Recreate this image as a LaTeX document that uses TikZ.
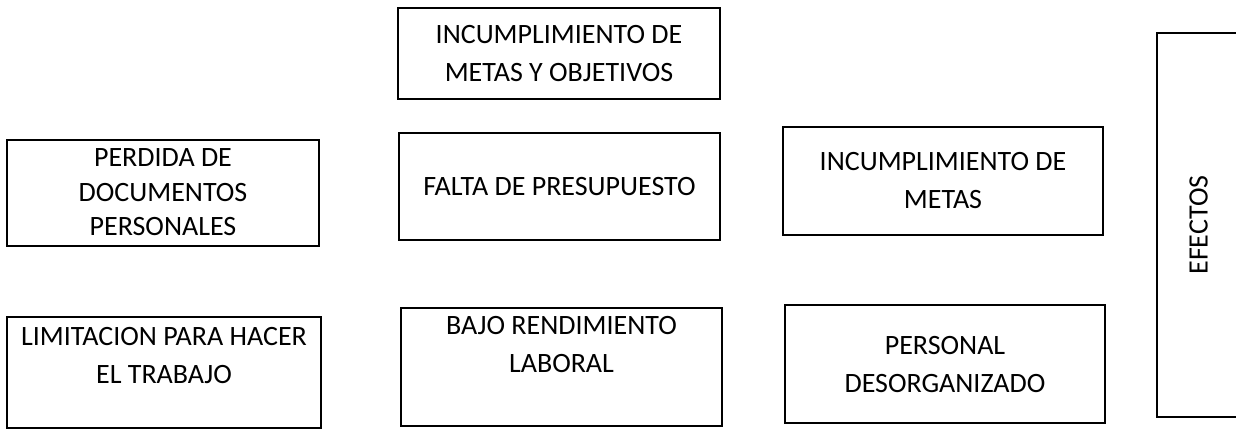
\documentclass[tikz,border=0pt]{standalone}
\usepackage{fontspec}
\setmainfont{Carlito}
\tikzset{%
  % Specifications for style of nodes:
            base/.style = {rectangle, draw=black, line width=1pt,
                           text centered, align=center, inner sep=4pt,
                           font=\fontsize{14}{19}\selectfont},
  efecto/.style = {base, minimum width=160pt, minimum height=54pt},
  titulo/.style = {base, rotate=90, minimum width=192pt, minimum height=41.5pt},
}

\begin{document}
\begin{tikzpicture}[x=0.5pt, y=-0.5pt]
  \useasboundingbox (0,0) rectangle (1236,430);
  % Specification of nodes (position, etc.)
  \node (metasobj) [efecto, minimum width=161pt, minimum height=45.5pt] at (559,53.5)
        {INCUMPLIMIENTO DE\\METAS Y OBJETIVOS};
  % middle row
  \node (perdida)  [efecto, minimum width=156pt, minimum height=53pt,
                    font=\fontsize{14}{17.3}\selectfont] at (163,192.5)
        {PERDIDA DE\\DOCUMENTOS\\PERSONALES};
  \node (presup)   [efecto, minimum width=160.5pt, minimum height=53.5pt] at (559.5,186.5)
        {FALTA DE PRESUPUESTO};
  \node (metas)    [efecto, minimum height=54pt] at (943,181)
        {INCUMPLIMIENTO DE\\METAS};
  % bottom row
  \node (limit)    [efecto, minimum width=157pt, minimum height=55.5pt, text depth=17pt] at (164,372.5)
        {LIMITACION PARA HACER\\EL TRABAJO};
  \node (rend)     [efecto, minimum width=160.5pt, minimum height=56pt, text depth=23pt] at (561.5,367)
        {BAJO RENDIMIENTO\\LABORAL};
  \node (desorg)   [efecto, minimum height=59pt] at (945,364)
        {PERSONAL\\DESORGANIZADO};
  % side label
  \node (efectos)  [titulo] at (1198.5,225) {EFECTOS};
\end{tikzpicture}
\end{document}
